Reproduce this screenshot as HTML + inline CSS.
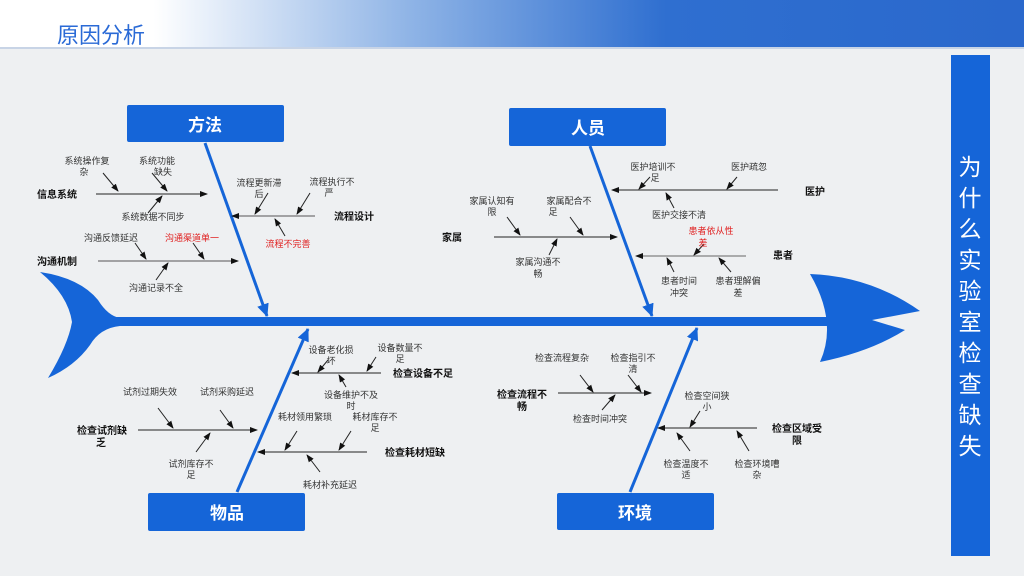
<!DOCTYPE html>
<html><head><meta charset="utf-8"><style>
html,body{margin:0;padding:0;width:1024px;height:576px;overflow:hidden;background:#eef0f2;}
svg{display:block;}
text{font-family:"Liberation Sans","Noto Sans CJK SC",sans-serif;}
.s{font-size:9px;fill:#333;}
.r{font-size:9px;fill:#e02020;}
.b{font-size:10px;font-weight:bold;fill:#111;}
.box{font-size:17px;font-weight:bold;fill:#fff;}
</style></head><body>
<svg width="1024" height="576" viewBox="0 0 1024 576" xmlns="http://www.w3.org/2000/svg">
<defs>
<linearGradient id="hg" x1="0" x2="1" y1="0" y2="0">
<stop offset="0" stop-color="#ffffff"/>
<stop offset="0.15" stop-color="#ffffff"/>
<stop offset="0.4" stop-color="#8fb4e6"/>
<stop offset="0.65" stop-color="#2f6fd0"/>
<stop offset="1" stop-color="#2a68cc"/>
</linearGradient>
<marker id="a" markerWidth="8" markerHeight="8" refX="7" refY="4" orient="auto" markerUnits="userSpaceOnUse"><path d="M0,1 L8,4 L0,7 z" fill="#111"/></marker>
<marker id="ab" markerWidth="14" markerHeight="14" refX="12" refY="7" orient="auto" markerUnits="userSpaceOnUse"><path d="M0,1 L13,7 L0,13 z" fill="#1565d8"/></marker>
</defs>
<rect x="0" y="0" width="1024" height="576" fill="#eef0f2"/>
<rect x="0" y="0" width="1024" height="48" fill="url(#hg)"/>
<rect x="0" y="47" width="1024" height="2" fill="#c8d4e6"/>
<text x="57" y="43" style="font-size:22px;fill:#2a6ad6;font-family:'Liberation Sans','Noto Sans CJK SC',sans-serif">原因分析</text>

<!-- right bar -->
<rect x="951" y="55" width="39" height="501" fill="#1565d8"/>
<g style="font-size:23px;fill:#fff" text-anchor="middle">
<text x="970" y="175">为</text><text x="970" y="206">什</text><text x="970" y="237">么</text><text x="970" y="268">实</text><text x="970" y="299">验</text><text x="970" y="330">室</text><text x="970" y="361">检</text><text x="970" y="392">查</text><text x="970" y="423">缺</text><text x="970" y="454">失</text>
</g>

<!-- fish -->
<rect x="100" y="317" width="740" height="9" fill="#1565d8"/>
<path d="M40,272 Q80,278 98,300 Q108,316 120,318 L120,326 Q100,328 90,345 Q75,366 48,378 Q68,345 72,322 Q68,295 40,272 z" fill="#1565d8"/>
<path d="M810,274 Q870,276 920,311 L872,320 L905,330 Q870,352 820,362 Q838,322 810,274 z" fill="#1565d8"/>

<!-- boxes -->
<rect x="127" y="105" width="157" height="37" rx="2" fill="#1565d8"/>
<text x="205" y="131" class="box" text-anchor="middle">方法</text>
<rect x="509" y="108" width="157" height="38" rx="2" fill="#1565d8"/>
<text x="588" y="134" class="box" text-anchor="middle">人员</text>
<rect x="148" y="493" width="157" height="38" rx="2" fill="#1565d8"/>
<text x="227" y="519" class="box" text-anchor="middle">物品</text>
<rect x="557" y="493" width="157" height="37" rx="2" fill="#1565d8"/>
<text x="635" y="519" class="box" text-anchor="middle">环境</text>

<!-- main bones -->
<g stroke="#1565d8" stroke-width="3" fill="none">
<line x1="205" y1="143" x2="267" y2="316" marker-end="url(#ab)"/>
<line x1="590" y1="146" x2="652" y2="316" marker-end="url(#ab)"/>
<line x1="237" y1="492" x2="308" y2="329" marker-end="url(#ab)"/>
<line x1="630" y1="492" x2="697" y2="328" marker-end="url(#ab)"/>
</g>

<g stroke="#222" stroke-width="1" fill="none">
<!-- 方法 -->
<line x1="96" y1="194" x2="207" y2="194" marker-end="url(#a)"/>
<line x1="103" y1="173" x2="118" y2="191" marker-end="url(#a)"/>
<line x1="152" y1="173" x2="167" y2="191" marker-end="url(#a)"/>
<line x1="148" y1="213" x2="162" y2="196" marker-end="url(#a)"/>
<line x1="315" y1="216" x2="232" y2="216" stroke="#555" marker-end="url(#a)"/>
<line x1="268" y1="193" x2="255" y2="214" marker-end="url(#a)"/>
<line x1="310" y1="193" x2="297" y2="214" marker-end="url(#a)"/>
<line x1="285" y1="236" x2="275" y2="219" marker-end="url(#a)"/>
<line x1="98" y1="261" x2="238" y2="261" stroke="#555" marker-end="url(#a)"/>
<line x1="135" y1="243" x2="146" y2="259" marker-end="url(#a)"/>
<line x1="193" y1="243" x2="204" y2="259" marker-end="url(#a)"/>
<line x1="156" y1="280" x2="168" y2="263" marker-end="url(#a)"/>
<!-- 人员 -->
<line x1="778" y1="190" x2="612" y2="190" marker-end="url(#a)"/>
<line x1="650" y1="177" x2="639" y2="189" marker-end="url(#a)"/>
<line x1="737" y1="177" x2="727" y2="189" marker-end="url(#a)"/>
<line x1="674" y1="208" x2="666" y2="193" marker-end="url(#a)"/>
<line x1="494" y1="237" x2="617" y2="237" marker-end="url(#a)"/>
<line x1="507" y1="217" x2="520" y2="235" marker-end="url(#a)"/>
<line x1="570" y1="217" x2="583" y2="235" marker-end="url(#a)"/>
<line x1="549" y1="255" x2="557" y2="239" marker-end="url(#a)"/>
<line x1="746" y1="256" x2="636" y2="256" stroke="#666" marker-end="url(#a)"/>
<line x1="704" y1="244" x2="694" y2="255" marker-end="url(#a)"/>
<line x1="674" y1="272" x2="667" y2="258" marker-end="url(#a)"/>
<line x1="731" y1="272" x2="719" y2="258" marker-end="url(#a)"/>
<!-- 物品 -->
<line x1="381" y1="373" x2="292" y2="373" marker-end="url(#a)"/>
<line x1="328" y1="360" x2="318" y2="372" marker-end="url(#a)"/>
<line x1="376" y1="357" x2="367" y2="371" marker-end="url(#a)"/>
<line x1="346" y1="387" x2="339" y2="375" marker-end="url(#a)"/>
<line x1="138" y1="430" x2="257" y2="430" marker-end="url(#a)"/>
<line x1="158" y1="408" x2="173" y2="428" marker-end="url(#a)"/>
<line x1="220" y1="410" x2="233" y2="428" marker-end="url(#a)"/>
<line x1="196" y1="452" x2="210" y2="433" marker-end="url(#a)"/>
<line x1="367" y1="452" x2="258" y2="452" marker-end="url(#a)"/>
<line x1="297" y1="431" x2="285" y2="450" marker-end="url(#a)"/>
<line x1="351" y1="431" x2="339" y2="450" marker-end="url(#a)"/>
<line x1="320" y1="472" x2="307" y2="455" marker-end="url(#a)"/>
<!-- 环境 -->
<line x1="558" y1="393" x2="651" y2="393" marker-end="url(#a)"/>
<line x1="580" y1="375" x2="593" y2="392" marker-end="url(#a)"/>
<line x1="628" y1="375" x2="641" y2="392" marker-end="url(#a)"/>
<line x1="602" y1="410" x2="615" y2="395" marker-end="url(#a)"/>
<line x1="757" y1="428" x2="658" y2="428" marker-end="url(#a)"/>
<line x1="700" y1="411" x2="690" y2="427" marker-end="url(#a)"/>
<line x1="690" y1="451" x2="677" y2="433" marker-end="url(#a)"/>
<line x1="749" y1="451" x2="737" y2="431" marker-end="url(#a)"/>
</g>

<g text-anchor="middle">
<!-- 方法 -->
<text x="57" y="198" class="b">信息系统</text>
<text x="87" y="164" class="s">系统操作复</text><text x="84" y="175" class="s">杂</text>
<text x="157" y="164" class="s">系统功能</text><text x="163" y="175" class="s">缺失</text>
<text x="153" y="220" class="s">系统数据不同步</text>
<text x="259" y="186" class="s">流程更新滞</text><text x="259" y="197" class="s">后</text>
<text x="332" y="185" class="s">流程执行不</text><text x="329" y="196" class="s">严</text>
<text x="354" y="220" class="b">流程设计</text>
<text x="288" y="247" class="r">流程不完善</text>
<text x="57" y="265" class="b">沟通机制</text>
<text x="111" y="241" class="s">沟通反馈延迟</text>
<text x="192" y="241" class="r">沟通渠道单一</text>
<text x="156" y="291" class="s">沟通记录不全</text>
<!-- 人员 -->
<text x="653" y="170" class="s">医护培训不</text><text x="655" y="181" class="s">足</text>
<text x="749" y="170" class="s">医护疏忽</text>
<text x="815" y="195" class="b">医护</text>
<text x="679" y="218" class="s">医护交接不清</text>
<text x="452" y="241" class="b">家属</text>
<text x="492" y="204" class="s">家属认知有</text><text x="492" y="215" class="s">限</text>
<text x="569" y="204" class="s">家属配合不</text><text x="553" y="215" class="s">足</text>
<text x="538" y="265" class="s">家属沟通不</text><text x="538" y="277" class="s">畅</text>
<text x="711" y="234" class="r">患者依从性</text><text x="703" y="246" class="r">差</text>
<text x="783" y="259" class="b">患者</text>
<text x="679" y="284" class="s">患者时间</text><text x="679" y="296" class="s">冲突</text>
<text x="738" y="284" class="s">患者理解偏</text><text x="738" y="296" class="s">差</text>
<!-- 物品 -->
<text x="331" y="353" class="s">设备老化损</text><text x="331" y="364" class="s">坏</text>
<text x="400" y="351" class="s">设备数量不</text><text x="400" y="362" class="s">足</text>
<text x="423" y="377" class="b">检查设备不足</text>
<text x="351" y="398" class="s">设备维护不及</text><text x="351" y="409" class="s">时</text>
<text x="150" y="395" class="s">试剂过期失效</text>
<text x="227" y="395" class="s">试剂采购延迟</text>
<text x="102" y="434" class="b">检查试剂缺</text><text x="101" y="446" class="b">乏</text>
<text x="191" y="467" class="s">试剂库存不</text><text x="191" y="478" class="s">足</text>
<text x="305" y="420" class="s">耗材领用繁琐</text>
<text x="375" y="420" class="s">耗材库存不</text><text x="375" y="431" class="s">足</text>
<text x="415" y="456" class="b">检查耗材短缺</text>
<text x="330" y="488" class="s">耗材补充延迟</text>
<!-- 环境 -->
<text x="562" y="361" class="s">检查流程复杂</text>
<text x="633" y="361" class="s">检查指引不</text><text x="633" y="372" class="s">清</text>
<text x="522" y="398" class="b">检查流程不</text><text x="522" y="410" class="b">畅</text>
<text x="600" y="422" class="s">检查时间冲突</text>
<text x="707" y="399" class="s">检查空间狭</text><text x="707" y="410" class="s">小</text>
<text x="797" y="432" class="b">检查区域受</text><text x="797" y="444" class="b">限</text>
<text x="686" y="467" class="s">检查温度不</text><text x="686" y="478" class="s">适</text>
<text x="757" y="467" class="s">检查环境嘈</text><text x="757" y="478" class="s">杂</text>
</g>
</svg>
</body></html>
